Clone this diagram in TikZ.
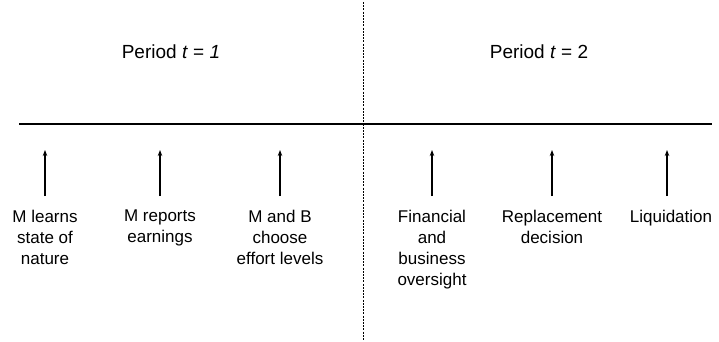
\documentclass[tikz,border=0pt]{standalone}
\usepackage{fontspec}
\setmainfont{Liberation Sans}
\usetikzlibrary{arrows.meta}
\begin{document}
\begin{tikzpicture}[x=1pt,y=-1pt,
  lbl/.style={font=\fontsize{17}{21}\selectfont, inner sep=0pt, anchor=north, align=center},
  head/.style={font=\fontsize{19}{22}\selectfont, inner sep=0pt},
  evt/.style={-{Stealth[length=6pt,width=4.5pt]}, line width=1.3pt},
  axis/.style={line width=2pt},
  divider/.style={line width=1pt, dash pattern=on 2pt off 1.2pt}]
\useasboundingbox (0,0) rectangle (719,341);
% time line and period divider
\coordinate (tl) at (19,124);
\coordinate (tr) at (712,124);
\coordinate (dt) at (363,2);
\coordinate (db) at (363,340);
\draw[axis] (tl) -- (tr);
\draw[divider] (dt) -- (db);
% period headings
\node[head] (p1) at (171,52) {Period \textit{t} = \textit{1}};
\node[head] (p2) at (539,52) {Period \textit{t} = 2};
% events
\foreach \n/\x in {a/45,b/160,c/280,d/432,e/552,f/667}{
  \coordinate (\n top) at (\x,150);
  \coordinate (\n bot) at (\x,196);
  \draw[evt] (\n bot) -- (\n top);
}
\node[lbl] (la) at (45,209.5) {M learns\\state of\\nature};
\node[lbl] (lb) at (160,209.5) {M reports\\earnings};
\node[lbl] (lc) at (280,209.5) {M and B\\choose\\effort levels};
\node[lbl] (ld) at (432,209.5) {Financial\\and\\business\\oversight};
\node[lbl] (le) at (552,209.5) {Replacement\\decision};
\node[lbl] (lf) at (671,209.5) {Liquidation};
\end{tikzpicture}
\end{document}
